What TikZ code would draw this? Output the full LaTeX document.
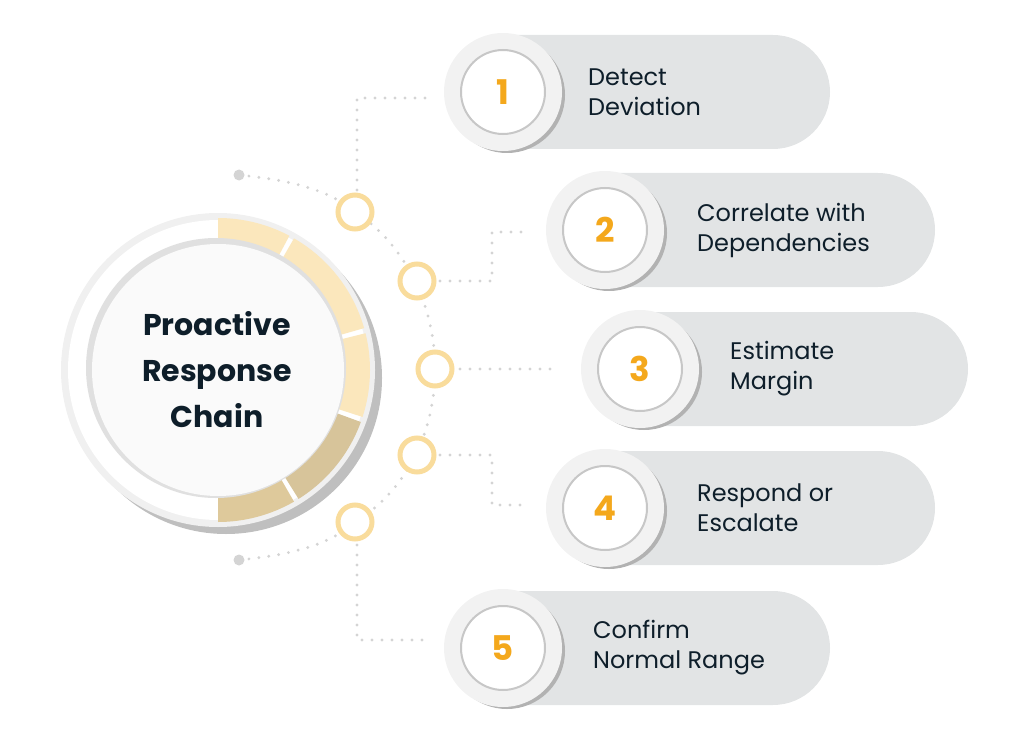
\documentclass[tikz,border=0pt]{standalone}
\usepackage{fontspec}
\setmainfont{Poppins}
\definecolor{pill}{HTML}{E2E4E5}
\definecolor{dot}{HTML}{D4D4D4}
\definecolor{ylw}{HTML}{F9DC9C}
\definecolor{ylwl}{HTML}{FBE7BC}
\definecolor{tan}{HTML}{D7C49A}
\definecolor{num}{HTML}{F4A81C}
\definecolor{ink}{HTML}{0E1E2A}
\begin{document}
\begin{tikzpicture}[x=1pt,y=-1pt,
  dots/.style={draw=dot,line width=3.2pt,line cap=round,dash pattern=on 0pt off 10pt},
  small/.style={circle,draw=ylw,line width=5pt,fill=white,minimum size=34pt,inner sep=0pt},
  numc/.style={circle,fill=white,draw=black!22,line width=2pt,minimum size=84pt,inner sep=0pt,
     font=\bfseries\fontsize{34}{34}\selectfont,text=num},
  lab/.style={anchor=west,align=left,inner sep=0pt,text=ink,font=\fontsize{24}{30}\selectfont},
]
\useasboundingbox (0,0) rectangle (1024,738);
% dotted connectors
\coordinate (d1) at (239,175);
\coordinate (d2) at (239,560);
\fill[dot] (d1) circle (5.5);
\fill[dot] (d2) circle (5.5);
\draw[dots] (d1) .. controls (290,180) and (330,190) .. (355,212);
\draw[dots] (d2) .. controls (290,555) and (330,545) .. (355,522);
\draw[dots] (355,212) .. controls (400,240) and (435,300) .. (435,369) .. controls (435,440) and (400,495) .. (355,522);
\draw[dots] (357,200) -- (357,98) -- (430,98);
\draw[dots] (357,535) -- (357,640) -- (430,640);
\draw[dots] (440,281) -- (492,281) -- (492,232) -- (528,232);
\draw[dots] (460,369) -- (560,369);
\draw[dots] (440,455) -- (492,455) -- (492,505) -- (528,505);
% main circle
\fill[black!25] (226,378) circle (156);
\fill[black!6] (218,370) circle (157);
\fill[white] (218,370) circle (150);
\fill[ylwl] (218,370) -- ++(-90:152) arc (-90:-62:152) -- cycle;
\fill[ylwl] (218,370) -- ++(-60:152) arc (-60:-16:152) -- cycle;
\fill[ylwl] (218,370) -- ++(-14:152) arc (-14:18:152) -- cycle;
\fill[tan] (218,370) -- ++(20:152) arc (20:58:152) -- cycle;
\fill[tan!80!ylw] (218,370) -- ++(60:152) arc (60:90:152) -- cycle;
\fill[black!12] (216,368) circle (130);
\fill[white!98!black] (218,370) circle (126);
\node[align=center,text=ink,font=\bfseries\fontsize{30}{46}\selectfont] (main) at (217,370) {Proactive\\Response\\Chain};
% small circles
\node[small] (s1) at (355,212) {};
\node[small] (s2) at (417,281) {};
\node[small] (s3) at (435,369) {};
\node[small] (s4) at (417,455) {};
\node[small] (s5) at (355,522) {};
% pills
\foreach \cx/\cy/\ex/\n/\tx/\t in {
  503/92/830/1/588/{Detect\\Deviation},
  605/230/935/2/697/{Correlate with\\Dependencies},
  640/369/968/3/730/{Estimate\\Margin},
  605/508/935/4/697/{Respond or\\Escalate},
  503/648/830/5/593/{Confirm\\Normal Range}}{
  \fill[pill] (\cx,\cy-57) -- (\ex-57,\cy-57) arc (-90:90:57) -- (\cx,\cy+57) -- cycle;
  \fill[black!30] (\cx+4,\cy+3) circle (58);
  \fill[white!95!black] (\cx,\cy) circle (59);
  \node[numc] (n\n) at (\cx,\cy) {\n};
  \node[lab] (t\n) at (\tx,\cy) {\t};
}
\end{tikzpicture}
\end{document}
